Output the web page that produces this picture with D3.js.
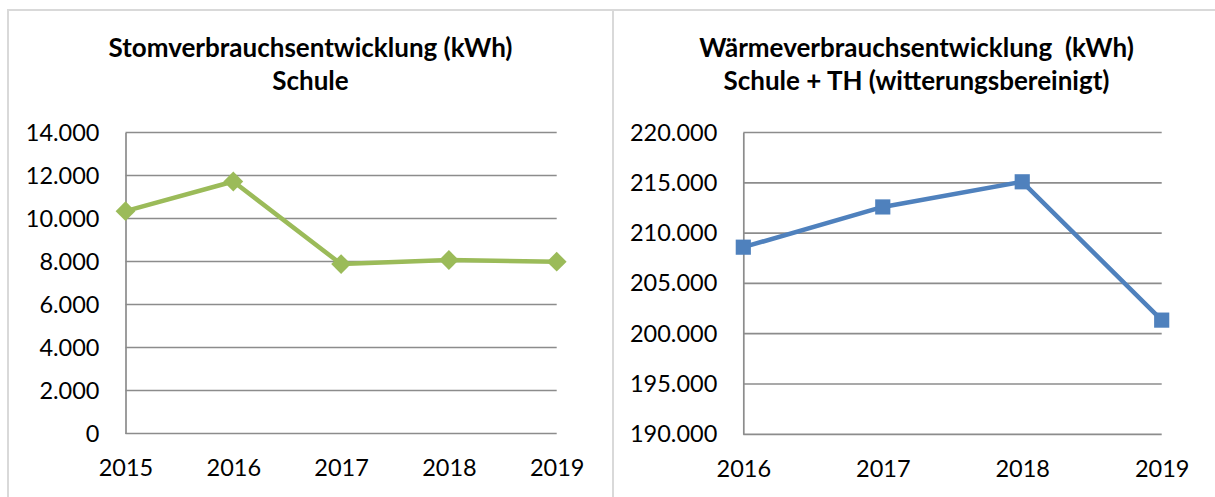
<!DOCTYPE html>
<html>
<head>
<meta charset="utf-8">
<script src="https://cdn.jsdelivr.net/npm/d3@7"></script>
<style>
    body { margin: 0; background: #fff; }
    svg text { font-family: Lato, "Liberation Sans", sans-serif; fill: #000; }
</style>
</head>
<body>
<div id="chart"></div>
<script>
// data
const stromYears = ["2015", "2016", "2017", "2018", "2019"];
const stromValues = [10340, 11720, 7880, 8070, 7990];
const stromTicks = [0, 2000, 4000, 6000, 8000, 10000, 12000, 14000];
const stromTitle = ["Stomverbrauchsentwicklung (kWh)", "Schule"];

const waermeYears = ["2016", "2017", "2018", "2019"];
const waermeValues = [208600, 212600, 215100, 201350];
const waermeTicks = [190000, 195000, 200000, 205000, 210000, 215000, 220000];
const waermeTitle = ["Wärmeverbrauchsentwicklung  (kWh)", "Schule + TH (witterungsbereinigt)"];

const width = 1215, height = 497;

const svg = d3.select('#chart')
    .append('svg')
    .attr('width', width)
    .attr('height', height);

svg.append('rect').attr('width', width).attr('height', height).attr('fill', '#fff');

// german number format: 14.000
const fmt = d3.formatLocale({decimal: ",", thousands: ".", grouping: [3], currency: ["", "€"]}).format(",d");

function drawPanel(opts) {
    const g = svg.append('g');

    // frame
    g.append('rect')
        .attr('x', opts.box[0])
        .attr('y', 10)
        .attr('width', opts.box[1] - opts.box[0])
        .attr('height', 520)
        .attr('fill', 'none')
        .attr('stroke', '#d9d9d9')
        .attr('stroke-width', 2);

    const cx = (opts.box[0] + opts.box[1]) / 2;
    g.append('text').attr('x', cx).attr('y', 57)
        .attr('text-anchor', 'middle').attr('font-weight', 'bold').attr('font-size', 26)
        .style('white-space', 'pre')
        .text(opts.title[0]);
    g.append('text').attr('x', cx).attr('y', 90)
        .attr('text-anchor', 'middle').attr('font-weight', 'bold').attr('font-size', 26)
        .style('white-space', 'pre')
        .text(opts.title[1]);

    const x = d3.scalePoint().domain(opts.years).range([opts.left, opts.right]).padding(0);
    const y = d3.scaleLinear().domain(d3.extent(opts.ticks)).range([opts.bottom, 132.5]);

    // gridlines
    g.append('g').selectAll('line')
        .data(opts.ticks)
        .join('line')
        .attr('x1', opts.left).attr('x2', opts.right)
        .attr('y1', d => y(d)).attr('y2', d => y(d))
        .attr('stroke', '#8c8c8c').attr('stroke-width', 1.7);

    // y axis
    const yAxis = g.append('g')
        .attr('transform', 'translate(' + opts.left + ',0)')
        .call(d3.axisLeft(y).tickValues(opts.ticks).tickFormat(fmt).tickSize(0).tickPadding(26));
    yAxis.select('.domain').attr('stroke', '#8c8c8c').attr('stroke-width', 1.7);
    yAxis.selectAll('text').attr('font-size', 23.5).attr('font-family', 'Lato').attr('fill', '#000');

    // x axis
    const xAxis = g.append('g')
        .attr('transform', 'translate(0,' + opts.bottom + ')')
        .call(d3.axisBottom(x).tickSize(0).tickPadding(26));
    xAxis.select('.domain').remove();
    xAxis.selectAll('text').attr('font-size', 23.5).attr('font-family', 'Lato').attr('fill', '#000');

    const lineFunc = d3.line()
        .x((d, i) => x(opts.years[i]))
        .y(d => y(d));

    g.append('path')
        .attr('d', lineFunc(opts.values))
        .attr('fill', 'none')
        .attr('stroke', opts.color)
        .attr('stroke-width', 4.5)
        .attr('stroke-linejoin', 'round');

    g.append('g').selectAll('path')
        .data(opts.values)
        .join('path')
        .attr('transform', (d, i) => 'translate(' + x(opts.years[i]) + ',' + y(d) + ')')
        .attr('d', d3.symbol().type(opts.symbol).size(opts.symbolSize))
        .attr('fill', opts.color);
}

drawPanel({
    box: [8, 613],
    title: stromTitle,
    years: stromYears,
    values: stromValues,
    ticks: stromTicks,
    left: 125.5, right: 556.7, bottom: 433.5,
    color: '#9bbb59',
    symbol: d3.symbolDiamond2,
    symbolSize: 250
});

drawPanel({
    box: [613, 1220],
    title: waermeTitle,
    years: waermeYears,
    values: waermeValues,
    ticks: waermeTicks,
    left: 743.3, right: 1161.7, bottom: 434.3,
    color: '#4f81bd',
    symbol: d3.symbolSquare,
    symbolSize: 230
});
</script>
</body>
</html>
